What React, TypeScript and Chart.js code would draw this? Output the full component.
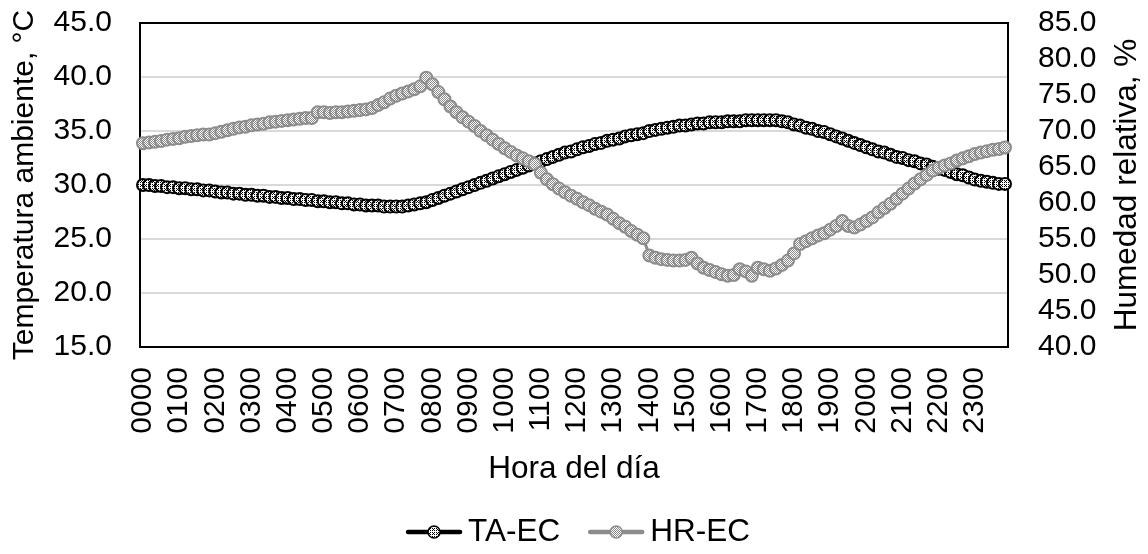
import React, { useEffect, useRef } from 'react';
import { Chart, registerables } from 'chart.js';

Chart.register(...registerables);

const HOURS = ['00', '01', '02', '03', '04', '05', '06', '07', '08', '09', '10', '11',
  '12', '13', '14', '15', '16', '17', '18', '19', '20', '21', '22', '23'];
const MINUTES = ['00', '10', '20', '30', '40', '50'];
const TIME_LABELS: string[] = HOURS.flatMap((h) => MINUTES.map((m) => h + m));

// Temperatura ambiente (°C) — left axis
const TA_EC = [
  30.0, 30.0, 29.9, 29.9, 29.8, 29.8,
  29.7, 29.7, 29.6, 29.6, 29.5, 29.5,
  29.4, 29.3, 29.3, 29.2, 29.2, 29.1,
  29.1, 29.0, 29.0, 28.9, 28.9, 28.8,
  28.8, 28.7, 28.7, 28.6, 28.6, 28.5,
  28.5, 28.4, 28.4, 28.3, 28.3, 28.2,
  28.2, 28.1, 28.1, 28.1, 28.0, 28.0,
  28.0, 28.0, 28.1, 28.2, 28.3, 28.4,
  28.6, 28.8, 29.0, 29.2, 29.4, 29.6,
  29.8, 30.0, 30.2, 30.4, 30.6, 30.8,
  31.0, 31.2, 31.4, 31.6, 31.8, 32.0,
  32.2, 32.4, 32.6, 32.8, 33.0, 33.1,
  33.3, 33.5, 33.6, 33.8, 33.9, 34.1,
  34.2, 34.3, 34.5, 34.6, 34.7, 34.8,
  35.0, 35.1, 35.2, 35.3, 35.4, 35.5,
  35.5, 35.6, 35.7, 35.7, 35.8, 35.8,
  35.8, 35.9, 35.9, 35.9, 36.0, 36.0,
  36.0, 36.0, 36.0, 36.0, 35.9, 35.8,
  35.6, 35.5, 35.3, 35.2, 35.0, 34.9,
  34.7, 34.5, 34.3, 34.1, 33.9, 33.7,
  33.5, 33.3, 33.1, 33.0, 32.8, 32.6,
  32.5, 32.3, 32.2, 32.0, 31.9, 31.7,
  31.5, 31.4, 31.2, 31.0, 30.9, 30.7,
  30.5, 30.4, 30.3, 30.2, 30.1, 30.1,
];

// Humedad relativa (%) — right axis
const HR_EC = [
  68.3, 68.4, 68.5, 68.6, 68.8, 68.9,
  69.0, 69.2, 69.3, 69.4, 69.5, 69.5,
  69.7, 69.9, 70.1, 70.3, 70.5, 70.6,
  70.8, 70.9, 71.0, 71.2, 71.3, 71.4,
  71.5, 71.6, 71.7, 71.8, 71.8, 72.6,
  72.6, 72.5, 72.6, 72.6, 72.7, 72.8,
  72.9, 73.0, 73.2, 73.6, 74.0, 74.5,
  74.9, 75.2, 75.5, 75.8, 76.2, 77.4,
  76.5, 75.4, 74.4, 73.4, 72.6, 71.9,
  71.3, 70.7, 70.0, 69.4, 68.8, 68.2,
  67.6, 67.1, 66.6, 66.2, 65.8, 65.4,
  64.2, 63.3, 62.6, 62.0, 61.5, 61.0,
  60.6, 60.1, 59.7, 59.2, 58.8, 58.4,
  57.8, 57.2, 56.7, 56.1, 55.6, 55.1,
  52.7, 52.4, 52.2, 52.1, 52.0, 52.0,
  52.1, 52.4, 51.6, 51.0, 50.7, 50.4,
  50.1, 49.9, 50.0, 50.8, 50.5, 49.9,
  51.0, 50.8, 50.6, 50.9, 51.4, 52.0,
  53.0, 54.3, 54.7, 55.1, 55.5, 55.8,
  56.3, 56.8, 57.5, 56.8, 56.6, 57.0,
  57.5, 58.0, 58.7, 59.3, 59.9, 60.6,
  61.3, 62.0, 62.7, 63.3, 63.9, 64.5,
  64.9, 65.2, 65.5, 65.9, 66.2, 66.5,
  66.8, 67.0, 67.2, 67.4, 67.5, 67.7,
];

const SERIES_NAMES = ['TA-EC', 'HR-EC'];
const LEFT_TITLE = 'Temperatura ambiente, °C';
const RIGHT_TITLE = 'Humedad relativa, %';
const X_TITLE = 'Hora del día';

const FONT = '"Liberation Sans", Arial, sans-serif';
const TICK_SIZE = 30;
const TITLE_SIZE = 31.5;
const LEFT_TITLE_SIZE = 30;
const BLACK = '#000000';
const GREY = '#8c8c8c';

function makePattern(fg: string, bg: string, cells: number[][]): CanvasPattern | string {
  const c = document.createElement('canvas');
  c.width = 4;
  c.height = 4;
  const ctx = c.getContext('2d');
  if (!ctx) return bg;
  ctx.fillStyle = bg;
  ctx.fillRect(0, 0, 4, 4);
  ctx.fillStyle = fg;
  cells.forEach(([x, y]) => ctx.fillRect(x, y, 1, 1));
  const p = ctx.createPattern(c, 'repeat');
  return p || bg;
}

const plotBox = {
  id: 'plotBox',
  beforeDatasetsDraw(chart: any) {
    const { ctx, chartArea } = chart;
    ctx.save();
    ctx.strokeStyle = '#000000';
    ctx.lineWidth = 2;
    ctx.strokeRect(chartArea.left, chartArea.top, chartArea.right - chartArea.left, chartArea.bottom - chartArea.top);
    ctx.restore();
  },
};

function makeExtras(fills: (CanvasPattern | string)[]) {
  return {
    id: 'extras',
    afterDraw(chart: any) {
      const { ctx, chartArea } = chart;
      ctx.save();
      // right axis title, reading bottom-to-top
      ctx.font = `${TITLE_SIZE}px ${FONT}`;
      ctx.fillStyle = '#000000';
      ctx.textAlign = 'center';
      ctx.textBaseline = 'middle';
      ctx.translate(1127, (chartArea.top + chartArea.bottom) / 2);
      ctx.rotate(-Math.PI / 2);
      ctx.fillText(RIGHT_TITLE, 0, 0);
      ctx.restore();

      // legend: line + marker + text
      ctx.save();
      ctx.font = `${TITLE_SIZE}px ${FONT}`;
      ctx.textBaseline = 'middle';
      ctx.textAlign = 'left';
      const colors = [BLACK, GREY];
      const iconW = 56;
      const gapIconText = 6;
      const gapItems = 28;
      const widths = SERIES_NAMES.map((n) => ctx.measureText(n).width);
      const total = widths.reduce((a, w) => a + iconW + gapIconText + w, 0) + gapItems;
      let x = chart.width / 2 - total / 2 + 4;
      const y = 532;
      SERIES_NAMES.forEach((name, i) => {
        ctx.strokeStyle = colors[i];
        ctx.lineWidth = 4.5;
        ctx.lineCap = 'round';
        ctx.beginPath();
        ctx.moveTo(x + 2, y);
        ctx.lineTo(x + iconW - 2, y);
        ctx.stroke();
        ctx.beginPath();
        ctx.arc(x + iconW / 2, y, 6, 0, Math.PI * 2);
        ctx.fillStyle = fills[i];
        ctx.fill();
        ctx.lineWidth = 1.5;
        ctx.stroke();
        ctx.fillStyle = '#000000';
        ctx.fillText(name, x + iconW + gapIconText, y);
        x += iconW + gapIconText + widths[i] + gapItems;
      });
      ctx.restore();
    },
  };
}

export default function App() {
  const canvasRef = useRef<HTMLCanvasElement | null>(null);

  useEffect(() => {
    const canvas = canvasRef.current;
    if (!canvas) return;

    const blackFill = makePattern(BLACK, '#ffffff', [[0, 0], [2, 0], [0, 2], [2, 2], [1, 1]]);
    const greyFill = makePattern(GREY, '#ffffff', [[0, 0], [2, 0], [1, 1], [3, 1], [0, 2], [2, 2], [1, 3], [3, 3]]);

    const noPad = (scale: any) => {
      scale.paddingTop = 0;
      scale.paddingBottom = 0;
    };

    const chart = new Chart(canvas, {
      type: 'line',
      data: {
        labels: TIME_LABELS,
        datasets: [
          {
            label: SERIES_NAMES[0],
            data: TA_EC,
            yAxisID: 'y',
            borderColor: BLACK,
            borderWidth: 3,
            pointRadius: 6,
            pointBorderWidth: 2,
            pointBorderColor: BLACK,
            pointBackgroundColor: blackFill as any,
            tension: 0,
            order: 1,
          },
          {
            label: SERIES_NAMES[1],
            data: HR_EC,
            yAxisID: 'y1',
            borderColor: GREY,
            borderWidth: 3,
            pointRadius: 6,
            pointBorderWidth: 2,
            pointBorderColor: GREY,
            pointBackgroundColor: greyFill as any,
            tension: 0,
            order: 0,
          },
        ],
      },
      options: {
        responsive: false,
        animation: false,
        layout: { padding: { top: 23, left: 0, right: 0, bottom: 62 } },
        plugins: {
          tooltip: { enabled: false },
          legend: { display: false },
        },
        scales: {
          x: {
            type: 'category',
            offset: true,
            grid: { display: false, drawTicks: false },
            border: { display: false },
            ticks: {
              autoSkip: false,
              minRotation: 90,
              maxRotation: 90,
              padding: 20,
              color: '#000000',
              font: { family: FONT, size: TICK_SIZE },
              callback: function (this: any, value: any, index: number) {
                return index % 6 === 0 ? TIME_LABELS[index] : '';
              },
            },
            title: {
              display: true,
              text: X_TITLE,
              color: '#000000',
              font: { family: FONT, size: TITLE_SIZE },
              padding: { top: 4, bottom: 4 },
            },
            afterFit: (scale: any) => {
              scale.height = 145;
            },
          },
          y: {
            type: 'linear',
            position: 'left',
            min: 15,
            max: 45,
            grid: { color: '#d9d9d9', lineWidth: 2, drawTicks: false },
            border: { display: false },
            ticks: {
              stepSize: 5,
              autoSkip: false,
              padding: 28,
              color: '#000000',
              font: { family: FONT, size: TICK_SIZE },
              callback: (v: any) => Number(v).toFixed(1),
            },
            title: {
              display: true,
              text: LEFT_TITLE,
              color: '#000000',
              font: { family: FONT, size: LEFT_TITLE_SIZE },
              padding: { top: 7, bottom: 4 },
            },
            afterFit: (scale: any) => {
              scale.width = 140;
              noPad(scale);
            },
          },
          y1: {
            type: 'linear',
            position: 'right',
            min: 40,
            max: 85,
            grid: { display: false, drawTicks: false },
            border: { display: false },
            ticks: {
              stepSize: 5,
              autoSkip: false,
              padding: 30,
              color: '#000000',
              font: { family: FONT, size: TICK_SIZE },
              callback: (v: any) => Number(v).toFixed(1),
            },
            title: { display: false, text: RIGHT_TITLE },
            afterFit: (scale: any) => {
              scale.width = 140;
              noPad(scale);
            },
          },
        },
      },
      plugins: [plotBox, makeExtras([blackFill, greyFill])],
    });

    return () => chart.destroy();
  }, []);

  return (
    <div style={{ position: 'absolute', left: 0, top: 0, width: 1148, height: 554, background: '#ffffff' }}>
      <canvas ref={canvasRef} width={1148} height={554} style={{ display: 'block' }} />
    </div>
  );
}
